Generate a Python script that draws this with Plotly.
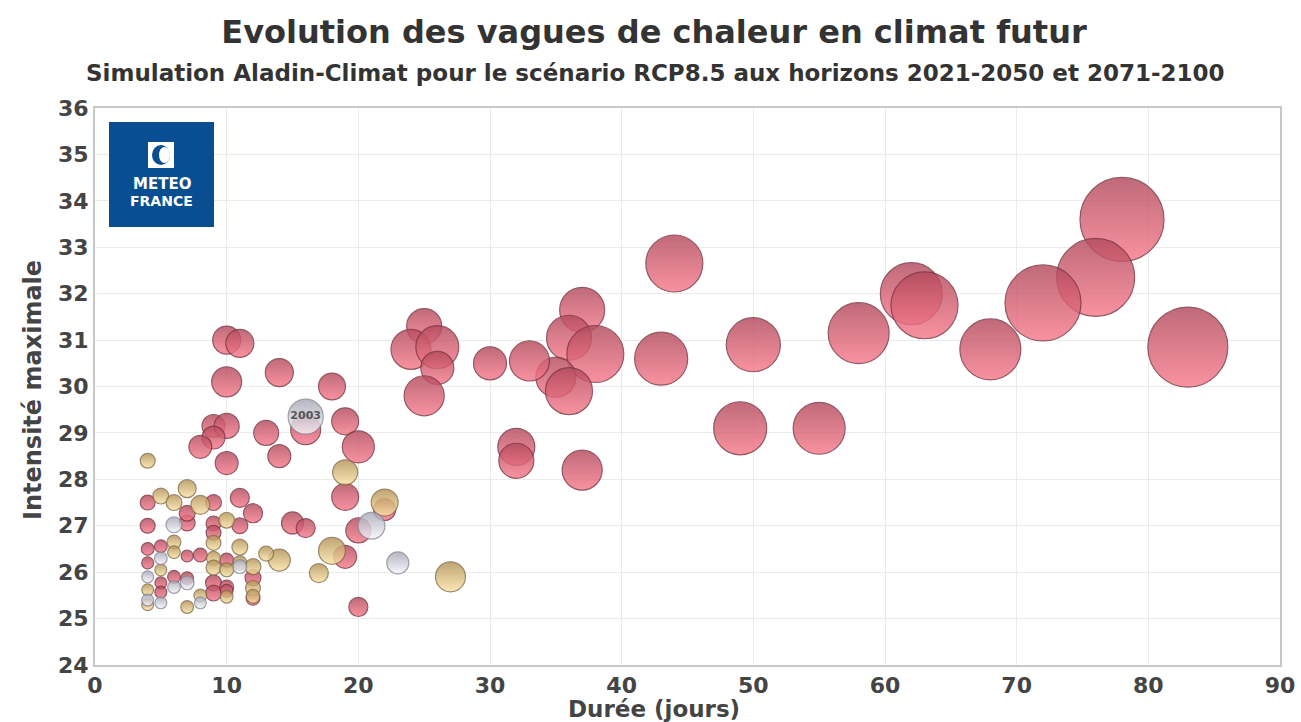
import plotly.graph_objects as go

# ---- Data ----
# 2071-2100 (red)
red_duree = [78, 76, 72, 83, 68, 62, 63, 58, 55, 50, 49, 44, 43, 37, 36, 38, 35, 36, 33, 30,
             25, 24, 26, 26, 25, 32, 32, 37, 10, 11, 10, 14, 18, 16, 19, 20, 9, 10, 9, 8,
             10, 13, 14, 19, 22, 20, 20, 19, 15, 16, 11, 12, 4, 9, 4, 7, 7, 9, 9, 11,
             4, 5, 7, 8, 10, 4, 6, 7, 9, 9, 10, 12, 12, 5, 5, 10]
red_intensite = [33.6, 32.35, 31.8, 30.85, 30.8, 32.0, 31.75, 31.15, 29.1, 30.9, 29.1, 32.65, 30.6, 31.65, 31.05, 30.7, 30.2, 29.9, 30.55, 30.5,
                 31.3, 30.8, 30.85, 30.4, 29.8, 28.7, 28.4, 28.2, 31.0, 30.93, 30.1, 30.3, 30.0, 29.07, 29.25, 28.7, 29.15, 29.15, 28.9, 28.7,
                 28.35, 29.0, 28.5, 27.62, 27.35, 26.9, 25.25, 26.33, 27.06, 26.95, 27.6, 27.27, 27.5, 27.5, 27.0, 27.06, 27.27, 27.05, 26.85, 27.0,
                 26.5, 26.56, 26.35, 26.37, 26.26, 26.2, 25.9, 25.87, 25.77, 25.55, 25.68, 25.88, 25.44, 25.77, 25.57, 25.6]
red_severite = [700, 604, 573, 635, 369, 381, 445, 369, 268, 290, 279, 322, 279, 201, 201, 322, 159, 219, 159, 108,
                122, 159, 183, 108, 159, 136, 122, 159, 78, 78, 89, 78, 72, 89, 72, 102, 52, 62, 52, 52,
                52, 62, 52, 72, 48, 62, 36, 52, 48, 36, 36, 36, 22, 25, 22, 25, 25, 22, 22, 25,
                16, 16, 14, 19, 19, 14, 16, 16, 25, 25, 19, 25, 19, 14, 14, 16]

# 2021-2050 (yellow)
jaune_duree = [4, 19, 22, 27, 18, 17, 14, 13, 5, 6, 7, 8, 10, 6, 6, 9, 9, 11, 5, 9,
               10, 11, 12, 12, 12, 4, 4, 7, 8, 10]
jaune_intensite = [28.4, 28.15, 27.5, 25.9, 26.46, 25.98, 26.26, 26.4, 27.64, 27.5, 27.8, 27.45, 27.12, 26.65, 26.43, 26.63, 26.3, 26.54, 26.05, 26.1,
                   26.05, 26.2, 26.12, 25.66, 25.48, 25.62, 25.3, 25.25, 25.5, 25.47]
jaune_severite = [22, 62, 72, 89, 72, 36, 48, 22, 25, 25, 32, 36, 25, 19, 16, 22, 19, 25, 14, 22,
                  19, 19, 25, 22, 19, 14, 14, 16, 16, 16]

# Observations (grey / white)
obs_duree = [16, 21, 23, 6, 5, 4, 6, 7, 4, 5, 8, 11]
obs_intensite = [29.35, 27.0, 26.2, 27.02, 26.3, 25.9, 25.68, 25.77, 25.4, 25.34, 25.34, 26.12]
obs_severite = [122, 72, 48, 25, 16, 14, 16, 19, 14, 14, 14, 19]
obs_labels = ["2003", "", "", "", "", "", "", "", "", "", "", ""]

x_ticks = [0, 10, 20, 30, 40, 50, 60, 70, 80, 90]
y_ticks = [24, 25, 26, 27, 28, 29, 30, 31, 32, 33, 34, 35, 36]

FONT = "DejaVu Sans"
max_sev = max(red_severite + jaune_severite + obs_severite)
MAX_D = 84
sizeref = 2.0 * max_sev / (MAX_D ** 2)

fig = go.Figure()

def bubbles(x, y, s, name, top, bottom, edge, text=None):
    fig.add_trace(go.Scatter(
        x=x, y=y, mode="markers+text" if text else "markers", name=name,
        text=text, textposition="middle center",
        textfont=dict(family=FONT, size=11, color="#555555", weight="bold"),
        marker=dict(size=s, sizemode="area", sizeref=sizeref, color=top,
                    opacity=0.82,
                    gradient=dict(type="vertical", color=bottom),
                    line=dict(width=1.2, color=edge)),
        hoverinfo="skip", showlegend=False))

bubbles(red_duree, red_intensite, red_severite, "2071-2100", "#b24a5c", "#f87a8c", "#7a3442")
bubbles(jaune_duree, jaune_intensite, jaune_severite, "2021-2050", "#b39055", "#fae3a6", "#857048")
bubbles(obs_duree, obs_intensite, obs_severite, "Observations", "#a6a6b6", "#f6f6fb", "#8a8a98", obs_labels)

# pixel helpers for the plot area (95..1280 x, 108..665 y)
L, R, T, B = 95, 1280, 108, 665
def fx(p):
    return (p - L) / (R - L)
def fy(p):
    return (B - p) / (B - T)

shapes = [
    dict(type="rect", xref="x domain", yref="y domain", x0=fx(109), x1=fx(214), y0=fy(227), y1=fy(122),
         fillcolor="#0a4e92", line=dict(width=0), layer="above"),
    dict(type="rect", xref="x domain", yref="y domain", x0=fx(148), x1=fx(174), y0=fy(168), y1=fy(142),
         fillcolor="white", line=dict(width=0), layer="above"),
    dict(type="circle", xref="x domain", yref="y domain", x0=fx(152), x1=fx(170), y0=fy(165), y1=fy(145),
         fillcolor="#0a4e92", line=dict(width=0), layer="above"),
    dict(type="circle", xref="x domain", yref="y domain", x0=fx(159), x1=fx(170), y0=fy(163), y1=fy(147),
         fillcolor="white", line=dict(width=0), layer="above"),
]

annotations = [
    dict(text="Simulation Aladin-Climat pour le scénario RCP8.5 aux horizons 2021-2050 et 2071-2100",
         xref="paper", yref="paper", x=(655 - L) / (R - L), y=fy(73), xanchor="center", yanchor="middle",
         showarrow=False, font=dict(family=FONT, size=23, color="#333333", weight="bold")),
    dict(text="Durée (jours)", xref="paper", yref="paper", x=(654 - L) / (R - L), y=fy(709),
         xanchor="center", yanchor="middle", showarrow=False,
         font=dict(family=FONT, size=23, color="#444444", weight="bold")),
    dict(text="Intensité maximale", xref="paper", yref="paper", x=fx(33), y=fy(390), textangle=-90,
         xanchor="center", yanchor="middle", showarrow=False,
         font=dict(family=FONT, size=24, color="#444444", weight="bold")),
    dict(text="METEO", xref="x domain", yref="y domain", x=fx(161.5), y=fy(184), xanchor="center", yanchor="middle",
         showarrow=False, font=dict(family=FONT, size=15, color="white", weight="bold")),
    dict(text="FRANCE", xref="x domain", yref="y domain", x=fx(161.5), y=fy(201), xanchor="center", yanchor="middle",
         showarrow=False, font=dict(family=FONT, size=14, color="white", weight="bold")),
]

fig.update_layout(
    width=1301, height=722,
    margin=dict(l=L, r=1301 - R, t=T, b=722 - B),
    paper_bgcolor="white", plot_bgcolor="white",
    title=dict(text="Evolution des vagues de chaleur en climat futur", x=(654) / 1301, xanchor="center",
               y=1 - 32 / 722, yanchor="middle", yref="container",
               font=dict(family=FONT, size=32, color="#333333", weight="bold")),
    shapes=shapes, annotations=annotations,
    xaxis=dict(range=[0, 90], tickvals=x_ticks, ticktext=[str(v) for v in x_ticks], automargin=False,
               showgrid=True, gridcolor="#ebebeb", gridwidth=1, zeroline=False,
               showline=True, linecolor="#c8c8c8", linewidth=2, mirror=True,
               ticks="", tickfont=dict(family=FONT, size=22, color="#444444", weight="bold")),
    yaxis=dict(range=[24, 36], tickvals=y_ticks, ticktext=[str(v) for v in y_ticks], automargin=False,
               showgrid=True, gridcolor="#ebebeb", gridwidth=1, zeroline=False,
               showline=True, linecolor="#c8c8c8", linewidth=2, mirror=True,
               ticks="", tickfont=dict(family=FONT, size=22, color="#444444", weight="bold")),
)

fig.write_html("out.html", config={"displayModeBar": False},
               post_script="document.body.style.margin='0px';document.body.style.overflow='hidden';")
